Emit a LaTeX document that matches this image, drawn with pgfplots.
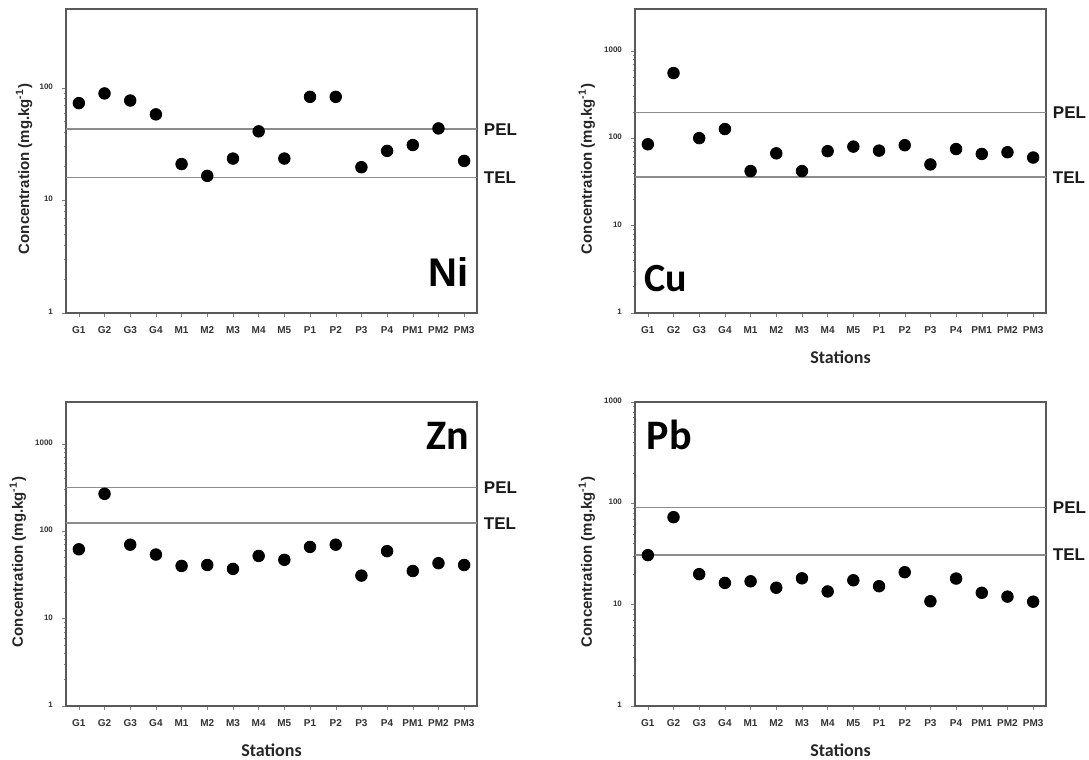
\documentclass[border=0pt]{standalone}
\usepackage{fontspec}
\setmainfont{Liberation Sans}
\newfontfamily\calib{Carlito}
\usepackage{pgfplots}
\pgfplotsset{compat=1.18}

\pgfplotsset{every axis/.append style={
    scale only axis, width=205.5pt, height=152pt,
    ymin=1, xmin=0.5, xmax=16.5, clip mode=individual,
    xtick={1,...,16},
    xticklabels={G1,G2,G3,G4,M1,M2,M3,M4,M5,P1,P2,P3,P4,PM1,PM2,PM3},
    tick align=outside, xtick pos=bottom, ytick pos=left,
    axis line style={black!65, line width=0.8pt},
    major tick length=2pt, minor tick length=1.2pt,
    typeset ticklabels with strut,
    xticklabel style={font=\bfseries\fontsize{5}{5}\selectfont, text=black!80, yshift=-1pt},
    yticklabel style={font=\bfseries\fontsize{4}{4}\selectfont, text=black!80, xshift=-1pt},
    ylabel style={font=\bfseries\fontsize{7.5}{8}\selectfont, text=black!85, anchor=center},
    xlabel style={font=\calib\bfseries\fontsize{9}{9}\selectfont, text=black!85, at={(rel axis cs:0.5,-0.145)}, anchor=center},
}}
\tikzset{
  refline/.style={black!45, line width=0.8pt},
  reflabel/.style={anchor=west, inner sep=0pt, xshift=3.3pt, font=\bfseries\fontsize{8.5}{8.5}\selectfont, text=black!90},
  elem/.style={inner sep=0pt, font=\calib\bfseries\fontsize{21}{21}\selectfont},
}

\begin{document}
\begin{tikzpicture}
\useasboundingbox (0,0) rectangle (544.5pt,380pt);

% Ni
\begin{axis}[ymode=log, at={(33pt,223.5pt)}, ymax=500,
  ytick={1,10,100}, yticklabels={1,10,100},
  ylabel={Concentration (mg.kg\textsuperscript{-1})},
  ylabel style={at={(rel axis cs:-0.102,0.474)}}]
\addplot[refline] coordinates {(0.5,42.8) (16.5,42.8)};
\addplot[refline] coordinates {(0.5,15.9) (16.5,15.9)};
\addplot[only marks, mark=*, mark size=2.9pt, black] coordinates {
(1,73) (2,89) (3,77) (4,58) (5,21) (6,16.5) (7,23.5) (8,41)
(9,23.5) (10,83) (11,83) (12,19.7) (13,27.5) (14,31) (15,43.5) (16,22.4)};
\node[reflabel] at (axis cs:16.5,42.8) {PEL};
\node[reflabel] at (axis cs:16.5,15.9) {TEL};
\node[elem, anchor=base east, font=\bfseries\fontsize{20}{20}\selectfont] at (rel axis cs:0.98,0.087) {Ni};
\end{axis}

% Cu
\begin{axis}[ymode=log, at={(317.5pt,223.5pt)}, ymax=3000,
  ytick={1,10,100,1000}, yticklabels={1,10,100,1000},
  ylabel={Concentration (mg.kg\textsuperscript{-1})},
  ylabel style={at={(rel axis cs:-0.117,0.474)}},
  xlabel={Stations}]
\addplot[refline] coordinates {(0.5,197) (16.5,197)};
\addplot[refline] coordinates {(0.5,35.7) (16.5,35.7)};
\addplot[only marks, mark=*, mark size=2.9pt, black] coordinates {
(1,85) (2,555) (3,100) (4,127) (5,42) (6,67) (7,42) (8,71)
(9,80) (10,72) (11,83) (12,50) (13,75) (14,66) (15,69) (16,60)};
\node[reflabel] at (axis cs:16.5,197) {PEL};
\node[reflabel] at (axis cs:16.5,35.7) {TEL};
\node[elem, anchor=base west, font=\calib\bfseries\fontsize{20}{20}\selectfont] at (rel axis cs:0.022,0.07) {Cu};
\end{axis}

% Zn
\begin{axis}[ymode=log, at={(33pt,27pt)}, ymax=3000,
  ytick={1,10,100,1000}, yticklabels={1,10,100,1000},
  ylabel={Concentration (mg.kg\textsuperscript{-1})},
  ylabel style={at={(rel axis cs:-0.117,0.474)}},
  xlabel={Stations}]
\addplot[refline] coordinates {(0.5,315) (16.5,315)};
\addplot[refline] coordinates {(0.5,123) (16.5,123)};
\addplot[only marks, mark=*, mark size=2.9pt, black] coordinates {
(1,62) (2,267) (3,70) (4,54) (5,40) (6,41) (7,37) (8,52)
(9,47) (10,66) (11,70) (12,31) (13,59) (14,35) (15,43) (16,41)};
\node[reflabel] at (axis cs:16.5,315) {PEL};
\node[reflabel] at (axis cs:16.5,123) {TEL};
\node[elem, anchor=base east] at (rel axis cs:0.982,0.845) {Zn};
\end{axis}

% Pb
\begin{axis}[ymode=log, at={(317.5pt,27pt)}, ymax=1000,
  ytick={1,10,100,1000}, yticklabels={1,10,100,1000},
  ylabel={Concentration (mg.kg\textsuperscript{-1})},
  ylabel style={at={(rel axis cs:-0.117,0.474)}},
  xlabel={Stations}]
\addplot[refline] coordinates {(0.5,91.3) (16.5,91.3)};
\addplot[refline] coordinates {(0.5,31) (16.5,31)};
\addplot[only marks, mark=*, mark size=2.9pt, black] coordinates {
(1,30.8) (2,73) (3,20) (4,16.4) (5,17) (6,14.7) (7,18.2) (8,13.5)
(9,17.4) (10,15.2) (11,20.9) (12,10.8) (13,18.1) (14,13.1) (15,12) (16,10.7)};
\node[reflabel] at (axis cs:16.5,91.3) {PEL};
\node[reflabel] at (axis cs:16.5,31) {TEL};
\node[elem, anchor=base west] at (rel axis cs:0.028,0.845) {Pb};
\end{axis}
\end{tikzpicture}
\end{document}
